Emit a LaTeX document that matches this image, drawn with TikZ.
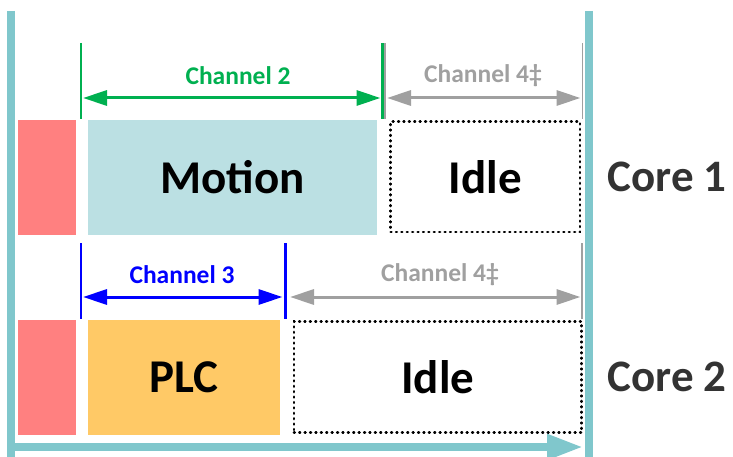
\documentclass[tikz,border=0pt]{standalone}
\usepackage{fontspec}
\setmainfont{Carlito}
\usetikzlibrary{arrows.meta}
\definecolor{axisteal}{HTML}{80C7CC}
\definecolor{overhead}{HTML}{FF8080}
\definecolor{motionblue}{HTML}{BBE0E3}
\definecolor{plcorange}{HTML}{FFC966}
\definecolor{chgreen}{HTML}{00B050}
\definecolor{chblue}{HTML}{0000FF}
\definecolor{chgray}{HTML}{A0A0A0}
\definecolor{coregray}{HTML}{333333}
\begin{document}
\begin{tikzpicture}[x=1pt,y=-1pt,
    slot/.style={inner sep=0pt,outer sep=0pt,font=\fontsize{47}{52}\selectfont\bfseries},
    idlebox/.style={slot,draw=black,line width=2.6pt,dash pattern=on 0.8pt off 4.6pt,line cap=round},
    chan/.style={font=\fontsize{25.5}{28}\selectfont\bfseries},
    span/.style={line width=3pt,{Triangle[length=24pt,width=15pt]}-{Triangle[length=24pt,width=15pt]}},
    tick/.style={line width=2.5pt}]
    \useasboundingbox (0,0) rectangle (733,457);
    % time axis and frame
    \draw[axisteal,line width=7.3pt] (11,11) -- (11,457);
    \draw[axisteal,line width=7.3pt] (589,11) -- (589,457);
    \coordinate (t0) at (7,447);
    \coordinate (t1) at (583,447);
    \draw[axisteal,line width=8pt,-{Triangle[length=36pt,width=24pt]}] (t0) -- (t1);
    % core 1
    \node[slot,fill=overhead,minimum width=58pt,minimum height=115pt] (ov1) at (47,177.5) {};
    \node[slot,fill=motionblue,minimum width=289pt,minimum height=115pt] (motion) at (232.5,177.5) {Motion};
    \node[idlebox,minimum width=189.3pt,minimum height=110.3pt] (idle1) at (485.3,176.9) {Idle};
    \node[font=\fontsize{45}{50}\selectfont\bfseries,text=coregray,anchor=west] (core1) at (604,177) {Core 1};
    % core 2
    \node[slot,fill=overhead,minimum width=58pt,minimum height=115pt] (ov2) at (47,377.5) {};
    \node[slot,fill=plcorange,minimum width=192pt,minimum height=115pt] (plc) at (184,377.5) {PLC};
    \node[idlebox,minimum width=287.7pt,minimum height=111pt] (idle2) at (437.8,377.2) {Idle};
    \node[font=\fontsize{45}{50}\selectfont\bfseries,text=coregray,anchor=west] (core2) at (604,377) {Core 2};
    % channel spans, core 1
    \coordinate (c2w) at (81,98);
    \coordinate (c2e) at (382.5,98);
    \coordinate (c4w) at (385,98);
    \coordinate (c4e) at (582.5,98);
    \draw[tick,chgreen] ([yshift=55pt]c2w) -- ([yshift=-21pt]c2w);
    \draw[tick,chgreen] ([yshift=55pt]c2e) -- ([yshift=-21pt]c2e);
    \draw[line width=1.5pt,chgray] ([yshift=55pt]c4w) -- ([yshift=-21pt]c4w);
    \draw[line width=1.5pt,chgray] ([yshift=55pt]c4e) -- ([yshift=-21pt]c4e);
    \draw[span,chgreen] ([xshift=2pt]c2w) -- ([xshift=-2pt]c2e);
    \draw[span,chgray] ([xshift=2pt]c4w) -- ([xshift=-2pt]c4e);
    \node[chan,text=chgreen] (ch2) at (238,76) {Channel 2};
    \node[chan,text=chgray] (ch4a) at (483,76) {Channel 4‡};
    % channel spans, core 2
    \coordinate (c3w) at (81,297);
    \coordinate (c3e) at (285,297);
    \coordinate (c4w2) at (290,297);
    \coordinate (c4e2) at (582,297);
    \draw[tick,chblue] ([yshift=54pt]c3w) -- ([yshift=-22pt]c3w);
    \draw[line width=3pt,chblue] ([yshift=54pt]c3e) -- ([yshift=-22pt]c3e);
    \draw[line width=1.5pt,chgray] ([yshift=54pt]c4e2) -- ([yshift=-22pt]c4e2);
    \draw[span,chblue] ([xshift=2pt]c3w) -- ([xshift=-2.5pt]c3e);
    \draw[span,chgray] (c4w2) -- ([xshift=-1.5pt]c4e2);
    \node[chan,text=chblue] (ch3) at (182,275) {Channel 3};
    \node[chan,text=chgray] (ch4b) at (440,275) {Channel 4‡};
\end{tikzpicture}
\end{document}
